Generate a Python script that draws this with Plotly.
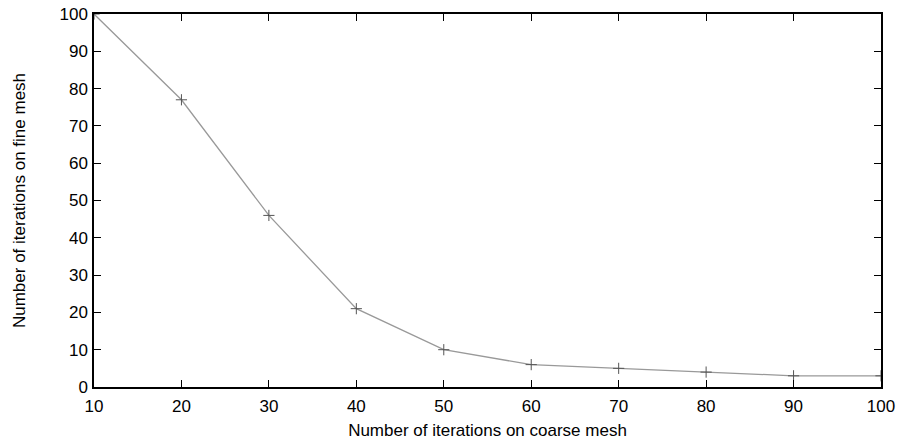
import plotly.graph_objects as go

coarse_iters = [10, 20, 30, 40, 50, 60, 70, 80, 90, 100]
fine_iters = [100, 77, 46, 21, 10, 6, 5, 4, 3, 3]

fig = go.Figure()
fig.add_trace(go.Scatter(
    x=coarse_iters, y=fine_iters, mode="lines+markers",
    line=dict(color="#999999", width=1.3),
    marker=dict(symbol="cross-thin", size=8, color="#555555",
                line=dict(color="#555555", width=1)),
    showlegend=False,
))

font_fam = "Liberation Sans, Arial, sans-serif"
axis_common = dict(
    showgrid=False, zeroline=False, showline=True, linecolor="black", linewidth=1.5,
    mirror="allticks", ticks="inside", ticklen=7, tickcolor="black", tickwidth=1,
    tickfont=dict(family=font_fam, size=17, color="black"), automargin=False,
)

fig.update_layout(
    width=902, height=446,
    margin=dict(l=94, r=21, t=14, b=59),
    plot_bgcolor="white", paper_bgcolor="white",
    xaxis=dict(range=[10, 100], dtick=10, ticklabelstandoff=3,
               title=dict(text="Number of iterations on coarse mesh", standoff=9,
                          font=dict(family=font_fam, size=17, color="black")),
               **axis_common),
    yaxis=dict(range=[0, 100], dtick=10, ticklabelstandoff=1,
               title=dict(text="Number of iterations on fine mesh", standoff=30,
                          font=dict(family=font_fam, size=17, color="black")),
               **axis_common),
)

fig.write_html("out.html")
